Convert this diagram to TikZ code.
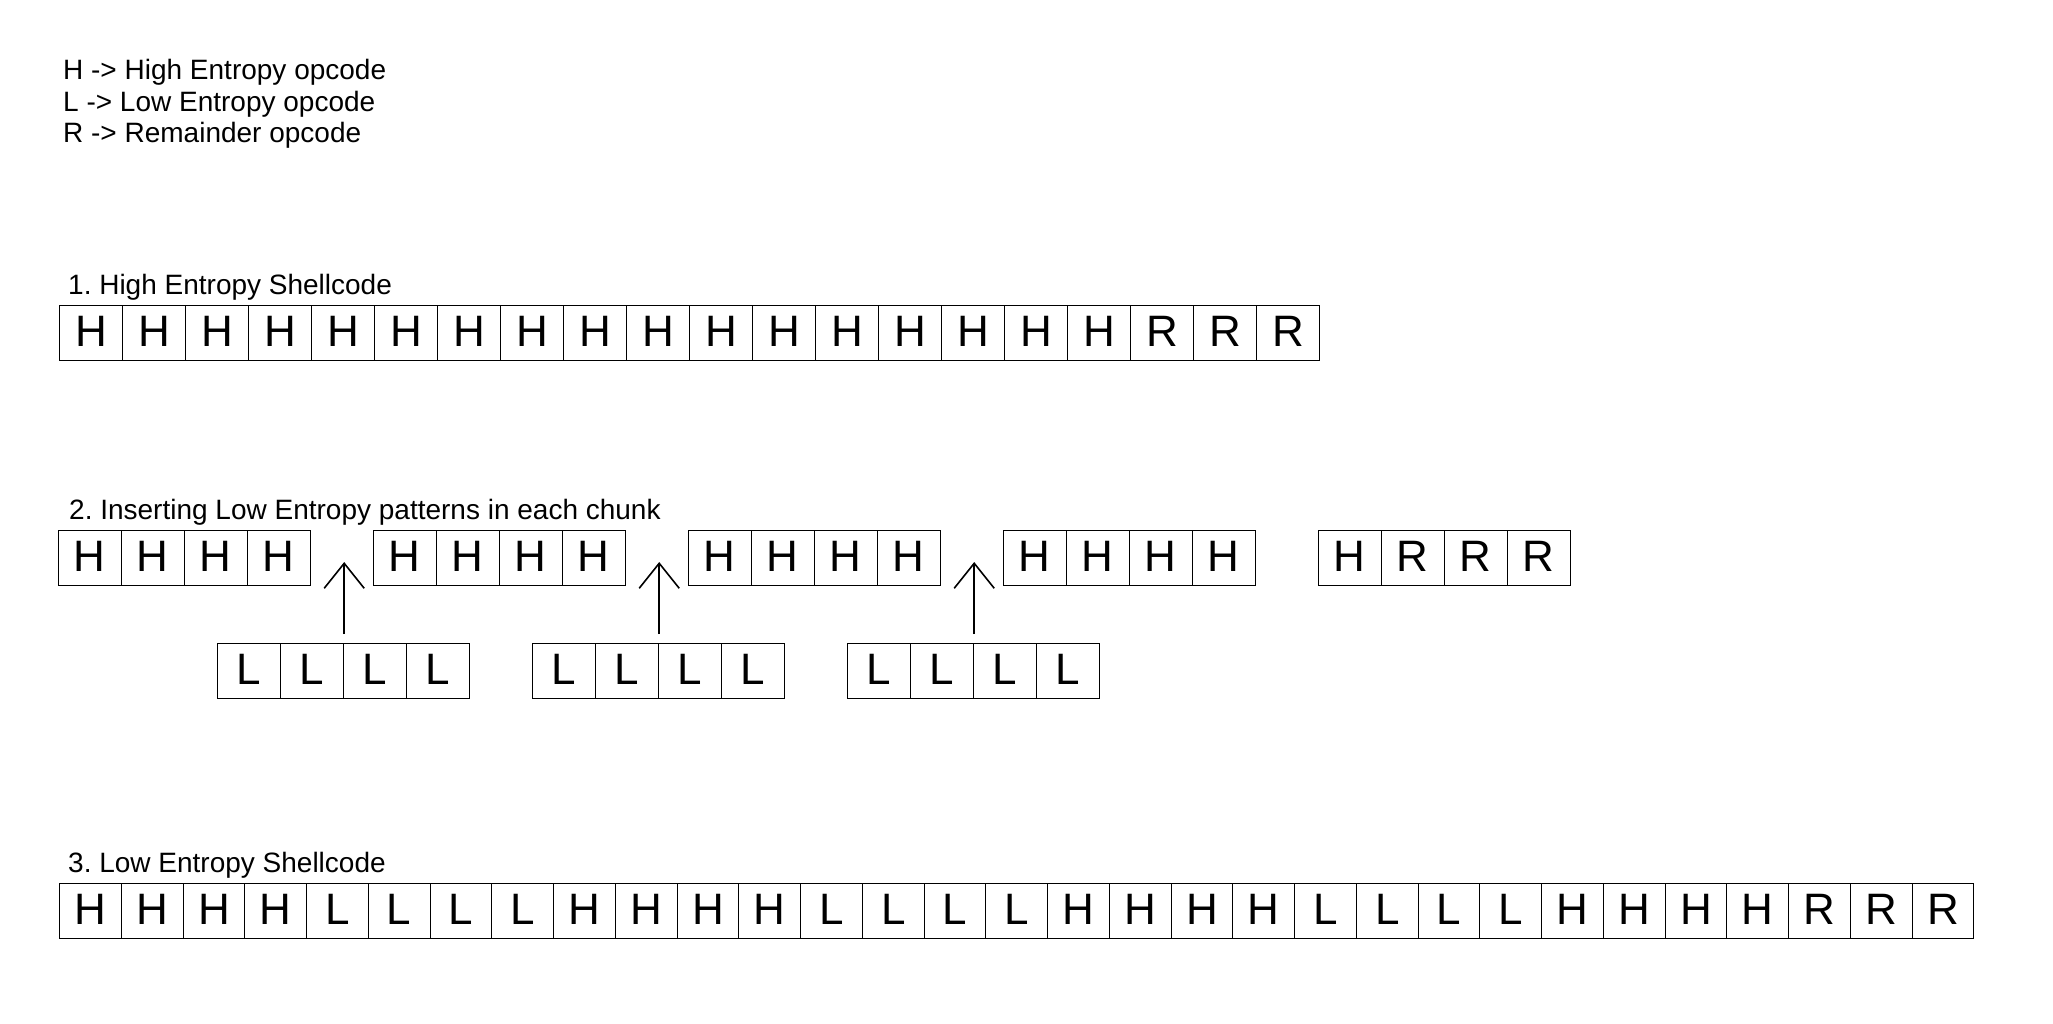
\documentclass[tikz,border=0pt]{standalone}
\usepackage{fontspec}
\setmainfont{Liberation Sans}
\usetikzlibrary{arrows.meta}
\frenchspacing
\begin{document}
\begin{tikzpicture}[x=1pt,y=-1pt,
  lbl/.style={anchor=base west, inner sep=0pt, font=\fontsize{28}{34}\selectfont},
  cell/.style={draw, line width=1.2pt, minimum width=63pt, minimum height=55pt, inner sep=0pt,
    text height=31.5pt, text depth=5pt, anchor=north west, font=\fontsize{44}{44}\selectfont},
  cellB/.style={cell, minimum width=61.75pt},
  arr/.style={line width=1.6pt, -{Straight Barb[length=25pt,width=40pt]}}]
\useasboundingbox[fill=white] (0,0) rectangle (2053,1023);
% legend
\node[lbl] (leg1) at (63,79.5) {H -> High Entropy opcode};
\node[lbl] (leg2) at (63,111) {L -> Low Entropy opcode};
\node[lbl] (leg3) at (63,142) {R -> Remainder opcode};
% row 1
\node[lbl] (t1) at (68,294.5) {1. High Entropy Shellcode};
\foreach \c [count=\i from 0] in {H,H,H,H,H,H,H,H,H,H,H,H,H,H,H,H,H,R,R,R}
  \node[cell] (a\i) at ({59+63*\i},305) {\c};
% row 2
\node[lbl] (t2) at (69,519) {2. Inserting Low Entropy patterns in each chunk};
\foreach \k in {0,...,3}
  \foreach \j in {0,...,3}
    \node[cell] (h\k-\j) at ({57.5+315*\k+63*\j},530) {H};
\foreach \c [count=\j from 0] in {H,R,R,R}
  \node[cell] (h4-\j) at ({1317.5+63*\j},530) {\c};
\foreach \k in {0,1,2}{
  \foreach \j in {0,...,3}
    \node[cell] (l\k-\j) at ({217+315*\k+63*\j},643) {L};
  \draw[arr] ([yshift=9pt]l\k-1.north east) -- ([yshift=81pt]l\k-1.north east);
}
% row 3
\node[lbl] (t3) at (68,872) {3. Low Entropy Shellcode};
\foreach \c [count=\i from 0] in {H,H,H,H,L,L,L,L,H,H,H,H,L,L,L,L,H,H,H,H,L,L,L,L,H,H,H,H,R,R,R}
  \node[cellB] (c\i) at ({59+61.75*\i},883) {\c};
\end{tikzpicture}
\end{document}
